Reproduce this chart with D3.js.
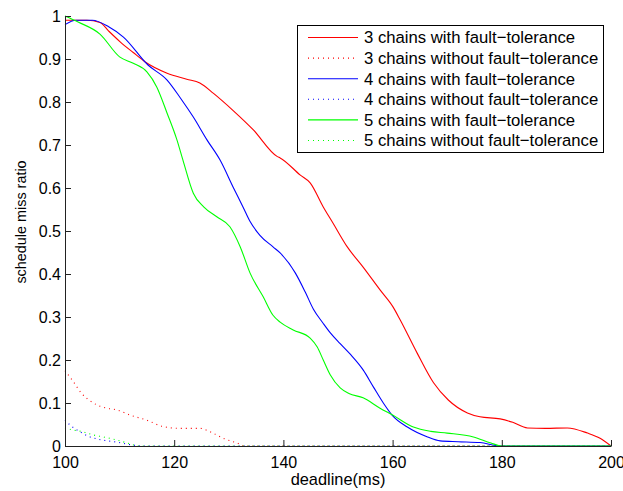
<!DOCTYPE html>
<html>
<head>
  <meta charset="utf-8">
  <title>schedule miss ratio</title>
  <script src="https://d3js.org/d3.v7.min.js"></script>
  <style>
    body { margin: 0; background: #fff; }
    text { font-family: "Liberation Sans", Arial, sans-serif; }
  </style>
</head>
<body>
  <script>
    // values
    var deadline3ft = [100, 104, 106.4, 108, 110.1, 112.5, 114.7, 118.7, 122.3, 124.7, 127.2, 130.8, 134.5, 138.9, 139.4, 143.1, 144.9, 147.3, 149.1, 151.7, 154.6, 157.7, 160.1, 161.4, 164.5, 167.5, 170.2, 173.7, 176, 179.7, 182, 184.7, 188, 192, 195.7, 198, 200];
    var ratio3ft    = [0.99, 0.99, 0.985, 0.965, 0.94, 0.915, 0.893, 0.867, 0.853, 0.844, 0.82, 0.78, 0.735, 0.673, 0.67, 0.63, 0.612, 0.556, 0.518, 0.463, 0.416, 0.363, 0.323, 0.293, 0.216, 0.147, 0.107, 0.077, 0.068, 0.063, 0.055, 0.042, 0.041, 0.042, 0.03, 0.018, 0];

    var deadline3nft = [100, 101.5, 103, 105.2, 107.6, 109.5, 111.9, 115, 118, 121, 124.7, 126.6, 129, 131.5, 133, 200];
    var ratio3nft    = [0.175, 0.15, 0.123, 0.1, 0.088, 0.084, 0.072, 0.06, 0.045, 0.041, 0.041, 0.033, 0.018, 0.007, 0, 0];

    var deadline4ft = [100, 102, 105, 108, 110.7, 115.2, 118.7, 121.1, 123.5, 126, 128.4, 130.8, 132.6, 133.9, 135.7, 138.1, 139.4, 142.2, 144, 145.5, 147.3, 148.6, 150.4, 152.2, 154.6, 156.5, 158.3, 159.9, 162.7, 166.4, 168.7, 172, 176, 179.7, 200];
    var ratio4ft    = [0.98, 0.99, 0.99, 0.975, 0.951, 0.886, 0.851, 0.81, 0.765, 0.712, 0.665, 0.602, 0.556, 0.522, 0.49, 0.463, 0.449, 0.402, 0.358, 0.318, 0.285, 0.263, 0.238, 0.214, 0.177, 0.137, 0.1, 0.072, 0.044, 0.021, 0.012, 0.01, 0.008, 0, 0];

    var deadline4nft = [100, 100.9, 102.5, 104.6, 106, 109.5, 112.5, 114, 200];
    var ratio4nft    = [0.06, 0.049, 0.035, 0.021, 0.016, 0.009, 0.002, 0, 0];

    var deadline5ft = [100, 102.4, 106.4, 110, 112.5, 115, 116.8, 118.7, 120.5, 121.6, 123.5, 125.4, 127.8, 130.2, 132.1, 133.9, 136.3, 138.1, 139.4, 141.8, 144.9, 146.2, 147.3, 148.6, 150.4, 152, 154.6, 157.7, 160, 163.8, 167, 170, 174.8, 178, 180, 200];
    var ratio5ft    = [1.0, 0.986, 0.958, 0.905, 0.89, 0.87, 0.835, 0.774, 0.712, 0.665, 0.588, 0.556, 0.533, 0.51, 0.463, 0.402, 0.347, 0.304, 0.288, 0.27, 0.251, 0.23, 0.2, 0.165, 0.135, 0.122, 0.112, 0.088, 0.072, 0.044, 0.034, 0.03, 0.021, 0.007, 0, 0];

    var deadline5nft = [100, 101.5, 103.3, 105.1, 107, 109.5, 111.4, 113.7, 200];
    var ratio5nft    = [0.042, 0.037, 0.033, 0.026, 0.021, 0.014, 0.007, 0, 0];

    var seriesLabels = [
      '3 chains with fault\u2212tolerance',
      '3 chains without fault\u2212tolerance',
      '4 chains with fault\u2212tolerance',
      '4 chains without fault\u2212tolerance',
      '5 chains with fault\u2212tolerance',
      '5 chains without fault\u2212tolerance'
    ];
    var xTicks = [100, 120, 140, 160, 180, 200];
    var yTicks = [0, 0.1, 0.2, 0.3, 0.4, 0.5, 0.6, 0.7, 0.8, 0.9, 1];

    function zip(xs, ys) {
      return xs.map(function(x, i) { return { x: x, y: ys[i] }; });
    }

    var series = [
      { label: seriesLabels[0], color: '#ff0000', dotted: false, pts: zip(deadline3ft, ratio3ft) },
      { label: seriesLabels[1], color: '#ff0000', dotted: true,  pts: zip(deadline3nft, ratio3nft) },
      { label: seriesLabels[2], color: '#0000ff', dotted: false, pts: zip(deadline4ft, ratio4ft) },
      { label: seriesLabels[3], color: '#0000ff', dotted: true,  pts: zip(deadline4nft, ratio4nft) },
      { label: seriesLabels[4], color: '#00ff00', dotted: false, pts: zip(deadline5ft, ratio5ft) },
      { label: seriesLabels[5], color: '#00ff00', dotted: true,  pts: zip(deadline5nft, ratio5nft) }
    ];

    var width = 623, height = 491;
    var margin = { top: 16, right: 12, bottom: 45, left: 65 };

    var svg = d3.select('body').append('svg')
      .attr('width', width)
      .attr('height', height);

    var x = d3.scaleLinear().domain([100, 200]).range([margin.left, width - margin.right]);
    var y = d3.scaleLinear().domain([0, 1]).range([height - margin.bottom, margin.top]);

    var line = d3.line()
      .x(function(d) { return x(d.x); })
      .y(function(d) { return y(d.y); })
      .curve(d3.curveMonotoneX);

    svg.append('g')
      .selectAll('path')
      .data(series)
      .join('path')
      .attr('fill', 'none')
      .attr('stroke', function(d) { return d.color; })
      .attr('stroke-width', 1.1)
      .attr('stroke-dasharray', function(d) { return d.dotted ? '1,4' : null; })
      .attr('d', function(d) { return line(d.pts); });

    // axes, ticks pointing inward like matlab
    var xAxis = svg.append('g')
      .attr('transform', 'translate(0,' + (height - margin.bottom) + ')')
      .call(d3.axisBottom(x).tickValues(xTicks).tickSizeInner(-6).tickSizeOuter(0).tickPadding(11));

    var yAxis = svg.append('g')
      .attr('transform', 'translate(' + margin.left + ',0)')
      .call(d3.axisLeft(y).tickValues(yTicks).tickFormat(function(d) { return String(d); })
        .tickSizeInner(-6).tickSizeOuter(0).tickPadding(4));

    [xAxis, yAxis].forEach(function(g) {
      g.select('.domain').attr('stroke', '#222');
      g.selectAll('.tick line').attr('stroke', '#222');
      g.selectAll('.tick text')
        .attr('fill', '#000')
        .style('font-size', '16px')
        .style('font-family', '"Liberation Sans", Arial, sans-serif');
    });

    svg.append('text')
      .attr('x', (x.range()[0] + x.range()[1]) / 2)
      .attr('y', 485)
      .attr('text-anchor', 'middle')
      .style('font-size', '16.4px')
      .text('deadline(ms)');

    svg.append('text')
      .attr('transform', 'translate(26,222) rotate(-90)')
      .attr('text-anchor', 'middle')
      .style('font-size', '14.4px')
      .text('schedule miss ratio');

    // legend
    var legend = svg.append('g');
    legend.append('rect')
      .attr('x', 297.5).attr('y', 25.5)
      .attr('width', 306).attr('height', 127)
      .attr('fill', '#fff')
      .attr('stroke', '#000');

    var rows = legend.selectAll('g.row')
      .data(series)
      .join('g')
      .attr('class', 'row')
      .attr('transform', function(d, i) { return 'translate(0,' + (37.5 + i * 20.6) + ')'; });

    rows.append('line')
      .attr('x1', 308).attr('x2', 358)
      .attr('stroke', function(d) { return d.color; })
      .attr('stroke-width', 1.1)
      .attr('stroke-dasharray', function(d) { return d.dotted ? '1,4' : null; });

    rows.append('text')
      .attr('x', 364)
      .attr('dy', '0.35em')
      .style('font-size', '16.7px')
      .text(function(d) { return d.label; });
  </script>
</body>
</html>
